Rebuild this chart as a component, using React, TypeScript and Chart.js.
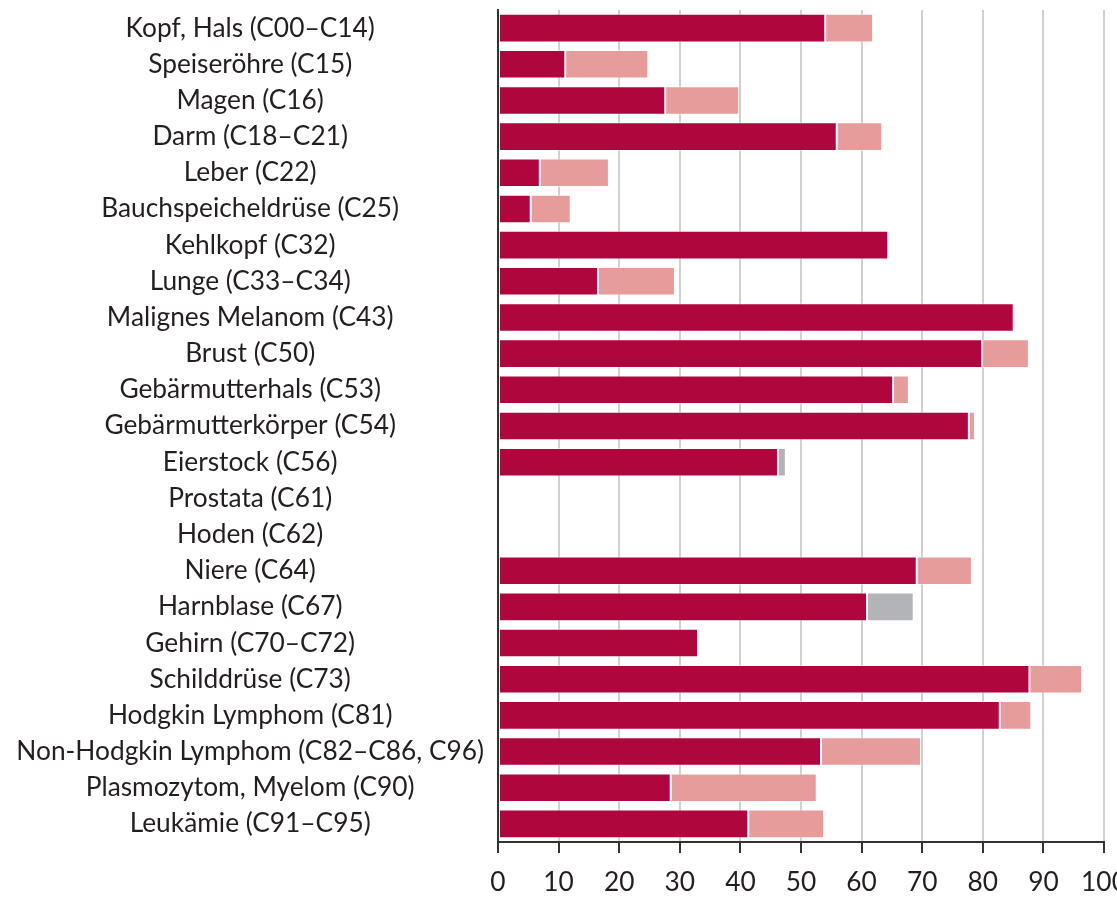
import React, { useEffect, useRef } from "react";
import { Chart, registerables } from "chart.js";

Chart.register(...registerables);

const categories = [
  "Kopf, Hals (C00–C14)",
  "Speiseröhre (C15)",
  "Magen (C16)",
  "Darm (C18–C21)",
  "Leber (C22)",
  "Bauchspeicheldrüse (C25)",
  "Kehlkopf (C32)",
  "Lunge (C33–C34)",
  "Malignes Melanom (C43)",
  "Brust (C50)",
  "Gebärmutterhals (C53)",
  "Gebärmutterkörper (C54)",
  "Eierstock (C56)",
  "Prostata (C61)",
  "Hoden (C62)",
  "Niere (C64)",
  "Harnblase (C67)",
  "Gehirn (C70–C72)",
  "Schilddrüse (C73)",
  "Hodgkin Lymphom (C81)",
  "Non-Hodgkin Lymphom (C82–C86, C96)",
  "Plasmozytom, Myelom (C90)",
  "Leukämie (C91–C95)",
];

// dark red bar (lower value)
const lowerValues: (number | null)[] = [
  54.0, 11.1, 27.6, 55.9, 6.9, 5.4, 64.4, 16.5, 85.1, 79.9, 65.2, 77.7, 46.2,
  null, null, 69.1, 60.9, 33.0, 87.7, 82.8, 53.3, 28.5, 41.3,
];

// light red bar end (upper value)
const upperValues: (number | null)[] = [
  61.9, 24.8, 39.8, 63.4, 18.3, 12.0, null, 29.2, null, 87.6, 67.8, 78.7, null,
  null, null, 78.2, null, null, 96.4, 88.0, 69.8, 52.6, 53.8,
];

// grey bar end
const greyValues: (number | null)[] = [
  null, null, null, null, null, null, null, null, null, null, null, null, 47.5,
  null, null, null, 68.6, null, null, null, null, null, null,
];

const xTicks = [0, 10, 20, 30, 40, 50, 60, 70, 80, 90, 100];

const FONT = "Lato";

export default function App() {
  const ref = useRef<HTMLCanvasElement | null>(null);

  useEffect(() => {
    document.body.style.margin = "0";
    const canvas = ref.current;
    if (!canvas) return;

    const range = (ends: (number | null)[]) =>
      ends.map((e, i) =>
        e != null && lowerValues[i] != null ? [lowerValues[i] as number, e] : null
      );

    const common = {
      grouped: false,
      categoryPercentage: 1,
      barPercentage: 0.79,
      borderWidth: 1,
      borderSkipped: false,
      borderColor: "rgba(255,255,255,0.55)",
    };

    const chart = new Chart(canvas, {
      type: "bar",
      data: {
        labels: categories,
        datasets: [
          {
            ...common,
            label: "lower",
            data: lowerValues as any,
            backgroundColor: "#B0063E",
            order: 1,
          } as any,
          {
            ...common,
            label: "upper",
            data: range(upperValues) as any,
            backgroundColor: "#E59C9A",
            order: 2,
          } as any,
          {
            ...common,
            label: "grey",
            data: range(greyValues) as any,
            backgroundColor: "#B3B4B7",
            order: 3,
          } as any,
        ],
      },
      options: {
        indexAxis: "y",
        responsive: false,
        animation: false,
        devicePixelRatio: 1,
        layout: { padding: { top: 10, right: 13, left: 0, bottom: 0 } },
        plugins: {
          legend: { display: false },
          tooltip: { enabled: false },
        },
        scales: {
          x: {
            type: "linear",
            min: 0,
            max: 100,
            afterBuildTicks: (scale: any) => {
              scale.ticks = xTicks.map((v) => ({ value: v }));
            },
            afterFit: (scale: any) => {
              scale.paddingRight = 0;
              scale.paddingLeft = 0;
              scale.height = 57;
            },
            grid: {
              color: "#d0d0d0",
              lineWidth: 2,
              tickColor: "#333333",
              tickLength: 11,
              tickWidth: 2,
              drawTicks: true,
            },
            border: { display: true, color: "#333333", width: 2 },
            ticks: {
              color: "#231f20",
              font: { family: FONT, size: 26.3 },
              padding: 14,
              maxRotation: 0,
              autoSkip: false,
            },
          },
          y: {
            type: "category",
            afterFit: (scale: any) => {
              scale.width = 498;
              scale.paddingTop = 0;
              scale.paddingBottom = 0;
            },
            grid: { display: false, drawTicks: false },
            border: { display: true, color: "#333333", width: 2 },
            ticks: {
              color: "#231f20",
              font: { family: FONT, size: 26.3 },
              crossAlign: "center",
              padding: 14,
              autoSkip: false,
            },
          },
        },
      } as any,
    });

    return () => chart.destroy();
  }, []);

  return (
    <div style={{ width: 1117, height: 899, overflow: "hidden" }}>
      <canvas ref={ref} width={1117} height={899} style={{ display: "block" }} />
    </div>
  );
}
